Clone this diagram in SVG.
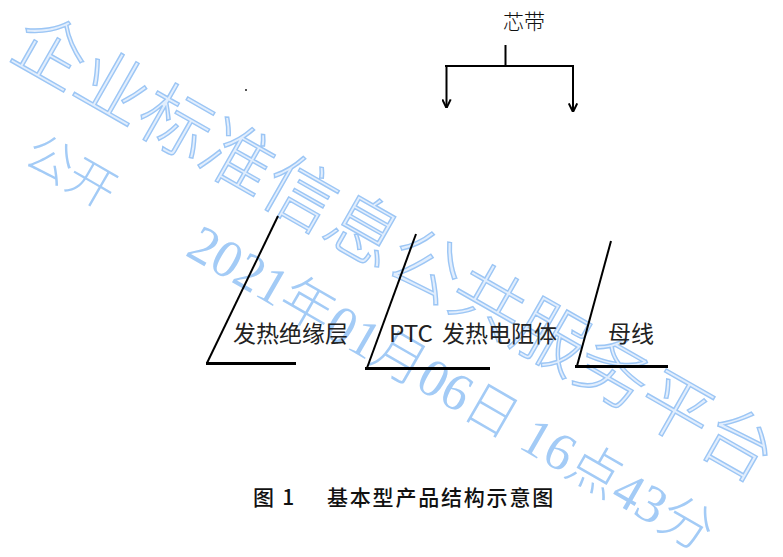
<svg xmlns="http://www.w3.org/2000/svg" width="783" height="557" viewBox="0 0 783 557">
<style>
.wm-big{font-family:"Liberation Serif","Noto Sans CJK SC",serif;font-size:72px;font-weight:300;fill:#e2eefd;stroke:#9cc6f5;stroke-width:1.4}
.wm{font-family:"Liberation Serif","Noto Sans CJK SC",serif;fill:#a3cbf6;font-weight:300}
.lbl{font-family:"Noto Sans CJK SC","Liberation Sans",sans-serif;font-size:23px;fill:#222}
.ln{stroke:#000;stroke-width:2;fill:none}
.base{stroke:#000;stroke-width:3;fill:none}
.cap{font-family:"Noto Sans CJK SC","Liberation Sans",sans-serif;font-size:21px;font-weight:500;fill:#111;letter-spacing:1.8px}
</style>
<defs>
<marker id="arr" viewBox="0 0 10 10" refX="9.6" refY="5" markerWidth="10" markerHeight="10" markerUnits="userSpaceOnUse" orient="auto">
<path d="M1,0.8 L9.6,5 L1,9.2" fill="none" stroke="#000" stroke-width="2"/>
</marker>
</defs>
<rect width="783" height="557" fill="#fff"/>
<g id="watermark">
<text class="wm-big" transform="translate(50,53) rotate(29.7)" x="-36" y="0" dominant-baseline="central">企业标准信息公共服务平台</text>
<text class="wm" font-size="48" transform="translate(50,160) rotate(30)" x="-24" y="0" dominant-baseline="central">公开</text>
<text class="wm" font-size="53" transform="translate(193,239) rotate(30)" x="0" y="0" dominant-baseline="central">2021年01月06日 16点43分</text>
</g>
<rect x="245" y="89" width="2" height="2" fill="#555"/>
<g id="connectors">
<line class="ln" x1="505.5" y1="45" x2="505.5" y2="66"/>
<line class="ln" x1="445" y1="66" x2="574" y2="66"/>
<line class="ln" x1="446.5" y1="66" x2="446.5" y2="108" marker-end="url(#arr)"/>
<line class="ln" x1="573" y1="66" x2="573" y2="112" marker-end="url(#arr)"/>
</g>
<g id="core-strip">
<text x="503" y="29" font-family="Noto Sans CJK SC,sans-serif" font-size="21" font-weight="300" fill="#111">芯带</text>
</g>
<g id="insulation">
<line class="ln" x1="278" y1="216" x2="207" y2="363"/>
<line class="base" x1="206" y1="363.5" x2="296" y2="363.5"/>
<text class="lbl" x="233" y="342">发热绝缘层</text>
</g>
<g id="ptc">
<line class="ln" x1="416" y1="234" x2="367" y2="368"/>
<line class="base" x1="365" y1="368.5" x2="490" y2="368.5"/>
<text class="lbl" x="389" y="342"><tspan textLength="44" lengthAdjust="spacingAndGlyphs">PTC</tspan> <tspan x="442">发热电阻体</tspan></text>
</g>
<g id="busbar">
<line class="ln" x1="611" y1="241" x2="577" y2="366"/>
<line class="base" x1="575" y1="366.5" x2="668" y2="366.5"/>
<text class="lbl" x="608" y="342">母线</text>
</g>
<g id="caption">
<text class="cap" x="253" y="504.5">图 1 <tspan x="327">基本型产品结构示意图</tspan></text>
</g>
</svg>
